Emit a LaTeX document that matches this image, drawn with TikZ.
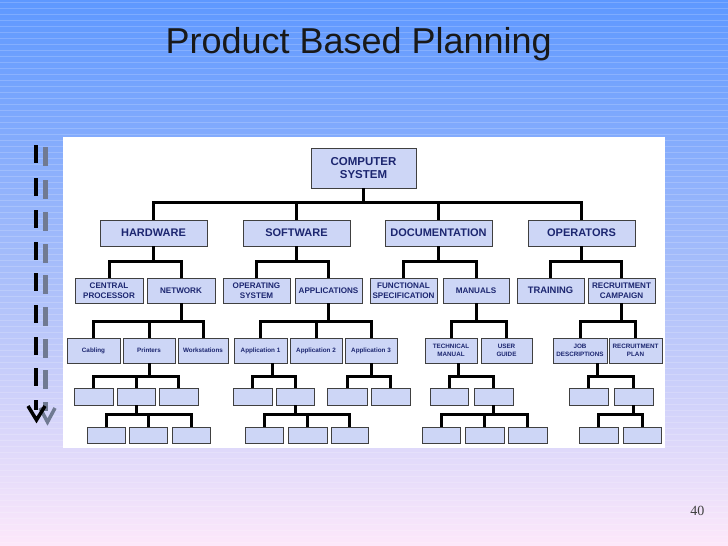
\documentclass[tikz,border=0pt]{standalone}
\usepackage{fontspec}
\setmainfont{Liberation Sans}
\newfontfamily\pagefont{Liberation Serif}
\usepackage{tikz}
\usetikzlibrary{positioning, calc}
\definecolor{bgtop}{RGB}{94,152,255}
\definecolor{bgmid}{RGB}{168,190,250}
\definecolor{bgbot}{RGB}{253,232,250}
\definecolor{boxfill}{RGB}{205,214,246}
\definecolor{boxtext}{RGB}{28,38,112}
\definecolor{bargray}{RGB}{112,122,146}
\tikzset{
    stripe/.style={white, opacity=0.18, line width=0.7pt},
    box/.style={draw=black!75, line width=0.8pt, fill=boxfill, text=boxtext, align=center, inner sep=0pt},
    lvlzero/.style={box, minimum width=105, minimum height=40, font=\fontsize{11.5}{13}\selectfont\bfseries},
    lvlone/.style={box, minimum width=107, minimum height=26, font=\fontsize{11}{13}\selectfont\bfseries},
    lvltwo/.style={box, minimum width=67, minimum height=25, font=\fontsize{8.1}{10}\selectfont\bfseries},
    lvlthree/.style={box, minimum width=52, minimum height=25, font=\fontsize{6.3}{8}\selectfont\bfseries},
    lvlfour/.style={box, minimum width=39, minimum height=17},
    lvlfive/.style={box, minimum width=38, minimum height=16},
    link/.style={line width=3pt, black}
}
% parent coordinate, bus height above the children, list of children
\newcommand{\branch}[3]{%
    \foreach \kid in {#3} {\draw[link] #1 |- ([yshift=#2pt]\kid.north) -- (\kid.north);}%
}

\begin{document}
\begin{tikzpicture}[x=1pt, y=-1pt]
        % Slide background with its thin stripes
        \useasboundingbox (0,0) rectangle (728,546);
        \shade[top color=bgtop, bottom color=bgbot, middle color=bgmid] (0,0) rectangle (728,546);
        \foreach \i in {0,...,90}
            \draw[stripe] (0,{2+6*\i}) -- (728,{2+6*\i});
        \fill[white] (63,137) rectangle (665,448);

        % Dashed arrow on the left
        \foreach \y in {145,178,210,242,273,305,337,368} {
            \fill[black] (34,\y) rectangle (38,\y+18);
            \fill[bargray] (43,\y+2) rectangle (48,\y+21);
        }
        \fill[black] (34,400) rectangle (38,410);
        \fill[bargray] (43,402) rectangle (48,411);
        \draw[bargray, line width=3.5pt] (40,408) -- (47.5,422) -- (55,408);
        \draw[black, line width=3.5pt] (28,406) -- (36.5,420) -- (45,406);

        \node[anchor=base west, font=\fontsize{36}{40}\selectfont, text=black!90] (title) at (162,53) {Product Based Planning};

        % Root and first level
        \node[lvlzero] (comp) at (363.5,168) {COMPUTER\\SYSTEM};
        \node[lvlone] (hw) at (153.5,233) {HARDWARE};
        \node[lvlone] (sw) at (296.5,233) {SOFTWARE};
        \node[lvlone] (doc) at (438.5,233) {DOCUMENTATION};
        \node[lvlone] (ops) at (581.5,233) {OPERATORS};

        % Second level
        \node[lvltwo, minimum width=68] (cpu) at (109,290.5) {CENTRAL\\PROCESSOR};
        \node[lvltwo, minimum width=68] (net) at (181,290.5) {NETWORK};
        \node[lvltwo] (os) at (256.5,290.5) {OPERATING\\SYSTEM};
        \node[lvltwo] (apps) at (328.5,290.5) {APPLICATIONS};
        \node[lvltwo] (fspec) at (403.5,290.5) {FUNCTIONAL\\SPECIFICATION};
        \node[lvltwo, minimum width=66] (man) at (476,290.5) {MANUALS};
        \node[lvltwo, font=\fontsize{9.4}{11}\selectfont\bfseries] (train) at (550.5,290.5) {TRAINING};
        \node[lvltwo] (recc) at (621.5,290.5) {RECRUITMENT\\CAMPAIGN};

        % Third level
        \node[lvlthree, minimum width=53] (cab) at (93.5,350.5) {Cabling};
        \node[lvlthree] (prn) at (149,350.5) {Printers};
        \node[lvlthree, minimum width=50] (wks) at (203,350.5) {Workstations};
        \node[lvlthree, minimum width=53] (app1) at (260.5,350.5) {Application 1};
        \node[lvlthree] (app2) at (316,350.5) {Application 2};
        \node[lvlthree] (app3) at (371,350.5) {Application 3};
        \node[lvlthree] (tech) at (451,350.5) {TECHNICAL\\MANUAL};
        \node[lvlthree, minimum width=51] (ugd) at (506.5,350.5) {USER\\GUIDE};
        \node[lvlthree, minimum width=54] (job) at (580,350.5) {JOB\\DESCRIPTIONS};
        \node[lvlthree, minimum width=53] (rplan) at (635.5,350.5) {RECRUITMENT\\PLAN};

        % Fourth level (empty)
        \node[lvlfour] (h41) at (93.5,396.5) {};
        \node[lvlfour, minimum width=38] (h42) at (136,396.5) {};
        \node[lvlfour] (h43) at (178.5,396.5) {};
        \node[lvlfour] (s41) at (252.5,396.5) {};
        \node[lvlfour, minimum width=38] (s42) at (295,396.5) {};
        \node[lvlfour, minimum width=40] (s43) at (347,396.5) {};
        \node[lvlfour] (s44) at (390.5,396.5) {};
        \node[lvlfour, minimum width=38] (d41) at (449,396.5) {};
        \node[lvlfour] (d42) at (493.5,396.5) {};
        \node[lvlfour] (o41) at (588.5,396.5) {};
        \node[lvlfour] (o42) at (633.5,396.5) {};

        % Fifth level (empty)
        \node[lvlfive] (h51) at (106,435) {};
        \node[lvlfive] (h52) at (148,435) {};
        \node[lvlfive] (h53) at (191,435) {};
        \node[lvlfive] (s51) at (264,435) {};
        \node[lvlfive, minimum width=39] (s52) at (307.5,435) {};
        \node[lvlfive, minimum width=37] (s53) at (349.5,435) {};
        \node[lvlfive] (d51) at (441,435) {};
        \node[lvlfive, minimum width=39] (d52) at (484.5,435) {};
        \node[lvlfive, minimum width=39] (d53) at (527.5,435) {};
        \node[lvlfive, minimum width=39] (o51) at (598.5,435) {};
        \node[lvlfive] (o52) at (642,435) {};

        % Connectors
        \branch{(comp.south)}{17}{hw,sw,doc,ops}
        \branch{(hw.south)}{16}{cpu,net}
        \branch{(sw.south)}{16}{os,apps}
        \branch{(doc.south)}{16}{fspec,man}
        \branch{(ops.south)}{16}{train,recc}
        \branch{(net.south)}{16}{cab,prn,wks}
        \branch{(apps.south)}{16}{app1,app2,app3}
        \branch{(man.south)}{16}{tech,ugd}
        \branch{(recc.south)}{16}{job,rplan}
        \branch{(prn.south)}{11}{h41,h42,h43}
        \branch{([xshift=12pt]app1.south)}{11}{s41,s42}
        \branch{(app3.south)}{11}{s43,s44}
        \branch{([xshift=7pt]tech.south)}{11}{d41,d42}
        \branch{([xshift=17pt]job.south)}{11}{o41,o42}
        \branch{(h42.south)}{12}{h51,h52,h53}
        \branch{(s42.south)}{12}{s51,s52,s53}
        \branch{(d42.south)}{12}{d51,d52,d53}
        \branch{(o42.south)}{12}{o51,o52}

        \node[anchor=base east, font=\pagefont\fontsize{14}{16}\selectfont, text=black!75] (pagenum) at (708,515) {40};
    \end{tikzpicture}
\end{document}
